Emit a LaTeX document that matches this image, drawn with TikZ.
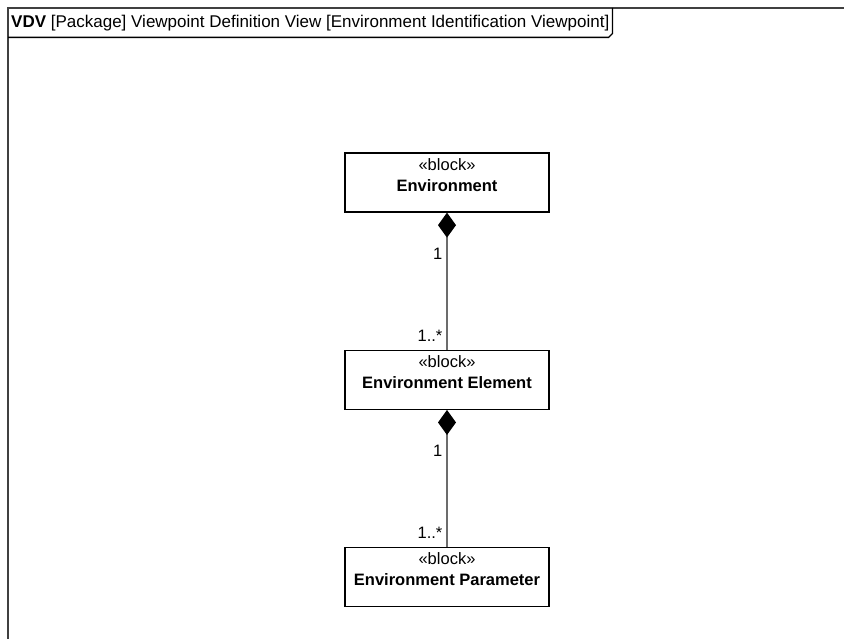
\documentclass[tikz,border=0pt]{standalone}
\usepackage{fontspec}
\setmainfont{Liberation Sans}
\usetikzlibrary{arrows.meta,positioning}

\begin{document}
\begin{tikzpicture}[x=1pt,y=-1pt,
  font=\fontsize{16.5}{21}\selectfont,
  node distance=137pt,
  block/.style={draw,line width=1.3pt,minimum width=204pt,minimum height=59pt,
    align=center,inner sep=0pt},
  comp/.style={draw=gray!85!black,line width=1.3pt,
    {Diamond[length=25pt,width=18pt,color=black]}-},
  mult/.style={anchor=east,inner sep=0pt,xshift=-4pt}]
\useasboundingbox (0,0) rectangle (844,639);
\draw[line width=1.3pt,gray!50!black] (8,639) -- (8,8) -- (844,8);
\node[anchor=north west,inner xsep=3pt,inner ysep=0pt,minimum height=29pt,
  font=\fontsize{17}{21}\selectfont] (title) at (8,8)
  {\textbf{VDV} [Package] Viewpoint Definition View [Environment Identification Viewpoint]};
\draw[line width=1.3pt] (title.south west) -- ([xshift=-4pt]title.south east)
  -- ([yshift=4pt]title.south east) -- (title.north east);
\node[block] (env) at (447,182.5) {«block»\\\textbf{Environment}\\[-12pt]\strut};
\node[block,below=of env] (elem) {«block»\\\textbf{Environment Element}\\[-12pt]\strut};
\node[block,below=of elem] (param) {«block»\\\textbf{Environment Parameter}\\[-12pt]\strut};
\draw[comp] (env) -- node[mult,pos=0.3] {1} node[mult,pos=0.9] {1..*} (elem);
\draw[comp] (elem) -- node[mult,pos=0.3] {1} node[mult,pos=0.9] {1..*} (param);
\end{tikzpicture}
\end{document}
